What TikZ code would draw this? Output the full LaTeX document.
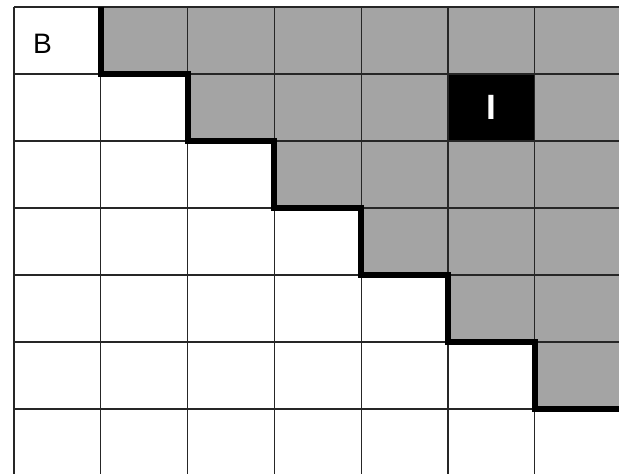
\documentclass[tikz,border=0pt]{standalone}
\usepackage{fontspec}
\setmainfont{Liberation Sans}
\usetikzlibrary{positioning}
\definecolor{cellgray}{RGB}{164,164,164}

\begin{document}
\begin{tikzpicture}[
    x=2.17cm, y=-1.675cm,
    gridline/.style={draw=black!85, line width=0.9pt},
    wall/.style={line width=4.2pt},
    tag/.style={inner sep=0pt, font=\fontsize{20}{24}\selectfont}
]
\useasboundingbox (-0.161,-0.104) rectangle (6.97,6.97);
% cells beyond the staircase
\foreach \r in {0,...,5}
  \fill[cellgray] (\r+1,\r) rectangle (7,\r+1);
\fill[black] (5,1) rectangle (6,2);
% grid
\foreach \i in {0,...,7}
  \draw[gridline] (\i,0) -- (\i,7);
\foreach \j in {0,...,7}
  \draw[gridline] (0,\j) -- (7,\j);
% staircase
\draw[wall] (1,0) \foreach \k in {1,...,6} { |- (\k+1,\k) };
\node[tag] (bcell) at (0.33,0.55) {B};
\node[tag, text=white, font=\bfseries\fontsize{25}{30}\selectfont] (icell) at (5.5,1.5) {I};
\end{tikzpicture}
\end{document}
